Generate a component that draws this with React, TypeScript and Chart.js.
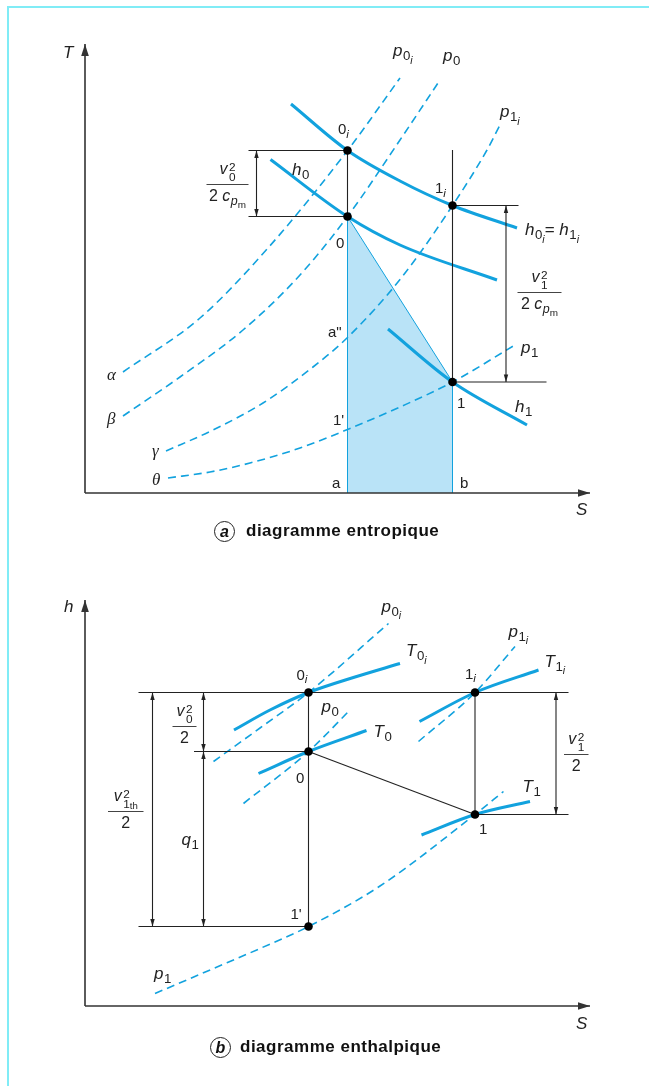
import React, { useEffect, useRef } from "react";
import { Chart, registerables } from "chart.js";
Chart.register(...registerables);

type P = [number, number];

// ---------------- Diagram (a) : diagramme entropique (T–S) ----------------
const aH0i: P[] = [[41.2, 77.8], [52.5, 68.5], [63, 62.4], [73.5, 57.5], [86.4, 53]];
const aH0: P[] = [[37.1, 66.7], [52.5, 55.3], [63, 49.6], [82.4, 42.6]];
const aH1: P[] = [[60.6, 32.8], [73.5, 22.2], [88.4, 13.6]];
const aP0i: P[] = [[7.6, 24.2], [23, 35], [36.6, 49], [52.5, 68.5], [63, 83]];
const aP0: P[] = [[7.6, 15.4], [19, 23.2], [31.6, 32.6], [43, 43.6], [52.5, 55.3], [63, 70.6], [71, 82.6]];
const aP1i: P[] = [[16.2, 8.4], [25.6, 12.6], [35.6, 18], [45.6, 25.2], [52.5, 31.1], [63.4, 43.2], [73.5, 57.5], [80.4, 68.6], [83, 73.6]];
const aP1: P[] = [[16.6, 3], [25, 4.2], [33, 6], [43, 9], [52.5, 12.7], [63, 17.2], [73.5, 22.2], [86, 29.6]];
const aArea: P[] = [[52.5, 0], [52.5, 55.3], [73.5, 22.2], [73.5, 0]];
const aStates: P[] = [[52.5, 68.5], [52.5, 55.3], [73.5, 57.5], [73.5, 22.2]];
const aInk: P[][] = [
  [[52.5, 68.5], [52.5, 55.3]],
  [[73.5, 68.6], [73.5, 22.2]],
  [[32.7, 68.5], [52.5, 68.5]],
  [[32.7, 55.3], [52.5, 55.3]],
  [[73.5, 57.5], [86.7, 57.5]],
  [[73.5, 22.2], [92.3, 22.2]],
];
const aDims: [number, number, number][] = [[34.3, 55.3, 68.5], [84.2, 22.2, 57.5]];
const aAxisLen: P = [101, 89.8];

// ---------------- Diagram (b) : diagramme enthalpique (h–S) ----------------
const bT0i: P[] = [[29.8, 55.2], [37, 59.2], [44.7, 62.7], [54, 65.8], [63, 68.5]];
const bT0: P[] = [[34.7, 46.5], [44.7, 50.9], [56.3, 55.1]];
const bT1i: P[] = [[66.9, 56.9], [78, 62.7], [90.7, 67.2]];
const bT1: P[] = [[67.3, 34.2], [78, 38.3], [89, 40.9]];
const bP0i: P[] = [[25.7, 48.9], [35, 55.6], [44.7, 62.7], [60.7, 76.5]];
const bP0: P[] = [[31.7, 40.5], [44.7, 50.9], [53, 59.2]];
const bP1i: P[] = [[66.7, 52.9], [78, 62.7], [86, 71.9]];
const bP1: P[] = [[14, 2.5], [25.7, 7.5], [35, 11.5], [44.7, 15.9], [59, 24], [78, 38.3], [83.7, 42.9]];
const bStates: P[] = [[44.7, 62.7], [44.7, 50.9], [78, 62.7], [78, 38.3], [44.7, 15.9]];
const bInk: P[][] = [
  [[10.7, 62.7], [96.7, 62.7]],
  [[21.8, 50.9], [44.7, 50.9]],
  [[78, 38.3], [96.7, 38.3]],
  [[10.7, 15.9], [44.7, 15.9]],
  [[44.7, 62.7], [44.7, 15.9]],
  [[78, 62.7], [78, 38.3]],
  [[44.7, 50.9], [78, 38.3]],
];
const bDims: [number, number, number][] = [[13.5, 15.9, 62.7], [23.7, 50.9, 62.7], [23.7, 15.9, 50.9], [94.2, 38.3, 62.7]];
const bAxisLen: P = [101, 81.2];

// ---------------- styling ----------------
const BLUE = "#12a2de";
const FILL = "#b9e3f7";
const INK = "#222222";
const AXIS = "#333333";
const SANS = '"Liberation Sans", Arial, sans-serif';
const SERIF = '"Liberation Serif", "DejaVu Serif", serif';

type Seg = { t?: string; it?: boolean; lv?: number; serif?: boolean; sup?: string; sub?: string; subsub?: string };
const I = (t: string): Seg => ({ t, it: true });
const N = (t: string): Seg => ({ t });
const s1 = (t: string, it = false): Seg => ({ t, lv: 1, it });
const s2 = (t: string, it = false): Seg => ({ t, lv: 2, it });
const G = (t: string): Seg => ({ t, it: true, serif: true });
const SS = (sup: string, sub: string, subsub?: string): Seg => ({ sup, sub, subsub });

type Label = { x: number; y: number; segs: Seg[]; size: number };
type Frac = { x0: number; x1: number; y: number; num: Seg[]; den: Seg[] };

const VAR = 17;
const PT = 15;
const den2cp: Seg[] = [N("2 "), I("c"), s1("p", true), s2("m")];

const aLabels: Label[] = [
  { x: -4.4, y: 87, segs: [I("T")], size: VAR },
  { x: 98.2, y: -4.4, segs: [I("S")], size: VAR },
  { x: 61.6, y: 87.4, segs: [I("p"), s1("0"), s2("i", true)], size: VAR },
  { x: 71.6, y: 86.4, segs: [I("p"), s1("0")], size: VAR },
  { x: 83, y: 75.2, segs: [I("p"), s1("1"), s2("i", true)], size: VAR },
  { x: 87.2, y: 28, segs: [I("p"), s1("1")], size: VAR },
  { x: 41.4, y: 63.6, segs: [I("h"), s1("0")], size: VAR },
  { x: 88, y: 51.6, segs: [I("h"), s1("0"), s2("i", true), N("= "), I("h"), s1("1"), s2("i", true)], size: VAR },
  { x: 86, y: 16.2, segs: [I("h"), s1("1")], size: VAR },
  { x: 4.4, y: 22.6, segs: [G("α")], size: VAR },
  { x: 4.4, y: 13.8, segs: [G("β")], size: VAR },
  { x: 13.4, y: 7.4, segs: [G("γ")], size: VAR },
  { x: 13.4, y: 1.6, segs: [G("θ")], size: VAR },
  { x: 50.6, y: 71.8, segs: [N("0"), s1("i", true)], size: PT },
  { x: 50.2, y: 49, segs: [N("0")], size: PT },
  { x: 70, y: 60, segs: [N("1"), s1("i", true)], size: PT },
  { x: 74.4, y: 17, segs: [N("1")], size: PT },
  { x: 48.6, y: 31.3, segs: [N('a"')], size: PT },
  { x: 49.6, y: 13.6, segs: [N("1'")], size: PT },
  { x: 49.4, y: 1.1, segs: [N("a")], size: PT },
  { x: 75, y: 1, segs: [N("b")], size: PT },
];
const aFracs: Frac[] = [
  { x0: 24.3, x1: 32.7, y: 61.9, num: [I("v"), SS("2", "0")], den: den2cp },
  { x0: 86.5, x1: 95.3, y: 40.3, num: [I("v"), SS("2", "1")], den: den2cp },
];

const bLabels: Label[] = [
  { x: -4.2, y: 78.9, segs: [I("h")], size: VAR },
  { x: 98.2, y: -4.6, segs: [I("S")], size: VAR },
  { x: 42.3, y: 65.3, segs: [N("0"), s1("i", true)], size: PT },
  { x: 47.3, y: 58.9, segs: [I("p"), s1("0")], size: VAR },
  { x: 59.3, y: 78.9, segs: [I("p"), s1("0"), s2("i", true)], size: VAR },
  { x: 64.2, y: 70, segs: [I("T"), s1("0"), s2("i", true)], size: VAR },
  { x: 57.7, y: 53.9, segs: [I("T"), s1("0")], size: VAR },
  { x: 84.7, y: 73.9, segs: [I("p"), s1("1"), s2("i", true)], size: VAR },
  { x: 91.9, y: 67.9, segs: [I("T"), s1("1"), s2("i", true)], size: VAR },
  { x: 76, y: 65.5, segs: [N("1"), s1("i", true)], size: PT },
  { x: 87.5, y: 42.9, segs: [I("T"), s1("1")], size: VAR },
  { x: 78.8, y: 34.5, segs: [N("1")], size: PT },
  { x: 42.2, y: 44.7, segs: [N("0")], size: PT },
  { x: 41.1, y: 17.5, segs: [N("1'")], size: PT },
  { x: 19.3, y: 32.2, segs: [I("q"), s1("1")], size: VAR },
  { x: 13.8, y: 5.5, segs: [I("p"), s1("1")], size: VAR },
];
const bFracs: Frac[] = [
  { x0: 17.5, x1: 22.3, y: 55.9, num: [I("v"), SS("2", "0")], den: [N("2")] },
  { x0: 4.6, x1: 11.7, y: 39.1, num: [I("v"), SS("2", "1", "th")], den: [N("2")] },
  { x0: 95.8, x1: 100.7, y: 50.4, num: [I("v"), SS("2", "1")], den: [N("2")] },
];

// ---------------- drawing helpers ----------------
function rich(ctx: CanvasRenderingContext2D, segs: Seg[], base: number, draw: boolean, x0: number, y0: number): number {
  let cx = x0;
  for (const s of segs) {
    if (s.sup !== undefined) {
      const f = base * 0.74;
      ctx.font = `${f}px ${SANS}`;
      const w1 = ctx.measureText(s.sup).width;
      const w2 = ctx.measureText(s.sub || "").width;
      const sx = cx + 1;
      if (draw) {
        ctx.fillText(s.sup, sx, y0 - base * 0.2);
        ctx.fillText(s.sub || "", sx, y0 + base * 0.44);
      }
      let w = Math.max(w1, w2);
      if (s.subsub) {
        ctx.font = `${base * 0.6}px ${SANS}`;
        const w3 = ctx.measureText(s.subsub).width;
        if (draw) ctx.fillText(s.subsub, sx + w2, y0 + base * 0.5);
        w = Math.max(w1, w2 + w3);
      }
      cx += w + 1;
      continue;
    }
    const lv = s.lv || 0;
    const size = lv === 0 ? base : lv === 1 ? base * 0.78 : base * 0.62;
    const dy = lv === 0 ? 0 : lv === 1 ? base * 0.24 : base * 0.46;
    ctx.font = `${s.it ? "italic " : ""}${size}px ${s.serif ? SERIF : SANS}`;
    if (draw) ctx.fillText(s.t || "", cx, y0 + dy);
    cx += ctx.measureText(s.t || "").width + (lv === 0 && s.it ? 0.5 : 0);
  }
  return cx - x0;
}

function head(ctx: CanvasRenderingContext2D, x: number, y: number, dx: number, dy: number, len: number, hw: number) {
  ctx.beginPath();
  ctx.moveTo(x, y);
  ctx.lineTo(x - dx * len - dy * hw, y - dy * len + dx * hw);
  ctx.lineTo(x - dx * len + dy * hw, y - dy * len - dx * hw);
  ctx.closePath();
  ctx.fill();
}

type Spec = {
  yMin: number; yMax: number;
  solid: P[][]; dashed: P[][]; area?: P[]; ink: P[][]; states: P[];
  dims: [number, number, number][]; axis: P; labels: Label[]; fracs: Frac[];
};

const X_MIN = -17;
const X_MAX = 112.8;

function pts(a: P[]) {
  return a.map(([x, y]) => ({ x, y }));
}

function makeConfig(spec: Spec): any {
  const datasets: any[] = [];
  if (spec.area) {
    datasets.push({
      data: pts(spec.area), showLine: true, fill: "origin", backgroundColor: FILL,
      borderColor: BLUE, borderWidth: 1, pointRadius: 0, tension: 0, order: 10,
    });
  }
  for (const c of spec.dashed) {
    datasets.push({
      data: pts(c), showLine: true, fill: false, borderColor: BLUE, borderWidth: 1.6,
      borderDash: [8, 5], pointRadius: 0, tension: 0.4, cubicInterpolationMode: "monotone", order: 6,
    });
  }
  for (const c of spec.solid) {
    datasets.push({
      data: pts(c), showLine: true, fill: false, borderColor: BLUE, borderWidth: 3,
      pointRadius: 0, tension: 0.4, cubicInterpolationMode: "monotone", order: 5,
    });
  }
  for (const l of spec.ink) {
    datasets.push({
      data: pts(l), showLine: true, fill: false, borderColor: INK, borderWidth: 1.1,
      pointRadius: 0, tension: 0, order: 3,
    });
  }
  for (const [x, y0, y1] of spec.dims) {
    datasets.push({
      data: pts([[x, y0], [x, y1]]), showLine: true, fill: false, borderColor: INK, borderWidth: 1.1,
      pointRadius: 0, tension: 0, order: 3,
    });
  }
  datasets.push({ data: pts([[0, 0], [spec.axis[0], 0]]), showLine: true, borderColor: AXIS, borderWidth: 1.6, pointRadius: 0, order: 2 });
  datasets.push({ data: pts([[0, 0], [0, spec.axis[1]]]), showLine: true, borderColor: AXIS, borderWidth: 1.6, pointRadius: 0, order: 2 });
  datasets.push({
    data: pts(spec.states), showLine: false, pointRadius: 4.3, pointBackgroundColor: "#000",
    pointBorderWidth: 0, pointBorderColor: "#000", order: 0,
  });

  const overlay = {
    id: "overlay",
    afterDatasetsDraw(chart: any) {
      const ctx: CanvasRenderingContext2D = chart.ctx;
      const xs = chart.scales.x, ys = chart.scales.y;
      const X = (v: number) => xs.getPixelForValue(v);
      const Y = (v: number) => ys.getPixelForValue(v);
      ctx.save();
      ctx.fillStyle = INK;
      for (const [x, y0, y1] of spec.dims) {
        const top = Math.max(y0, y1), bot = Math.min(y0, y1);
        head(ctx, X(x), Y(top), 0, -1, 7.5, 2.2);
        head(ctx, X(x), Y(bot), 0, 1, 7.5, 2.2);
      }
      ctx.fillStyle = AXIS;
      head(ctx, X(spec.axis[0]), Y(0), 1, 0, 12, 3.8);
      head(ctx, X(0), Y(spec.axis[1]), 0, -1, 12, 3.8);
      ctx.fillStyle = INK;
      ctx.textBaseline = "alphabetic";
      ctx.textAlign = "left";
      for (const l of spec.labels) {
        rich(ctx, l.segs, l.size, true, X(l.x), Y(l.y));
      }
      for (const f of spec.fracs) {
        const x0 = X(f.x0), x1 = X(f.x1), y = Math.round(Y(f.y)) + 0.5;
        ctx.strokeStyle = "#444";
        ctx.lineWidth = 1;
        ctx.beginPath();
        ctx.moveTo(x0, y);
        ctx.lineTo(x1, y);
        ctx.stroke();
        const cm = (x0 + x1) / 2;
        const wn = rich(ctx, f.num, 16, false, 0, 0);
        rich(ctx, f.num, 16, true, cm - wn / 2, y - 10.5);
        const wd = rich(ctx, f.den, 16, false, 0, 0);
        rich(ctx, f.den, 16, true, cm - wd / 2, y + 16.5);
      }
      ctx.restore();
    },
  };

  return {
    type: "scatter",
    data: { datasets },
    options: {
      animation: false,
      responsive: false,
      maintainAspectRatio: false,
      devicePixelRatio: 1,
      events: [],
      layout: { padding: 0, autoPadding: false },
      plugins: { legend: { display: false }, tooltip: { enabled: false }, title: { display: false } },
      scales: {
        x: { type: "linear", min: X_MIN, max: X_MAX, display: false },
        y: { type: "linear", min: spec.yMin, max: spec.yMax, display: false },
      },
    },
    plugins: [overlay],
  };
}

const specA: Spec = {
  yMin: -13.4, yMax: 98.6,
  solid: [aH0i, aH0, aH1], dashed: [aP0i, aP0, aP1i, aP1], area: aArea,
  ink: aInk, states: aStates, dims: aDims, axis: aAxisLen, labels: aLabels, fracs: aFracs,
};
const specB: Spec = {
  yMin: -16, yMax: 89.2,
  solid: [bT0i, bT0, bT1i, bT1], dashed: [bP0i, bP0, bP1i, bP1],
  ink: bInk, states: bStates, dims: bDims, axis: bAxisLen, labels: bLabels, fracs: bFracs,
};

function Caption({ left, top, letter, text, gap }: { left: number; top: number; letter: string; text: string; gap: number }) {
  return (
    <div style={{ position: "absolute", left, top, display: "flex", alignItems: "center", height: 22, color: "#111", fontFamily: SANS }}>
      <span style={{
        display: "inline-block", width: 19, height: 19, border: "1.2px solid #222", borderRadius: "50%",
        fontStyle: "italic", fontWeight: "bold", fontSize: 16, lineHeight: "19px", textAlign: "center", boxSizing: "content-box",
      }}>{letter}</span>
      <span style={{ marginLeft: gap, fontWeight: "bold", fontSize: 17, letterSpacing: 0.5, whiteSpace: "nowrap" }}>{text}</span>
    </div>
  );
}

export default function App() {
  const refA = useRef<HTMLCanvasElement>(null);
  const refB = useRef<HTMLCanvasElement>(null);
  useEffect(() => {
    const ca = new Chart(refA.current as HTMLCanvasElement, makeConfig(specA));
    const cb = new Chart(refB.current as HTMLCanvasElement, makeConfig(specB));
    return () => {
      ca.destroy();
      cb.destroy();
    };
  }, []);
  return (
    <div style={{ position: "absolute", left: 0, top: 0, width: 649, height: 1086, overflow: "hidden", background: "#fff" }}>
      <div style={{ position: "absolute", left: 7, top: 6, width: 700, height: 1200, borderLeft: "2px solid #80ecf6", borderTop: "2px solid #80ecf6" }} />
      <canvas ref={refA} width={649} height={560} style={{ position: "absolute", left: 0, top: 0, width: 649, height: 560 }} />
      <canvas ref={refB} width={649} height={526} style={{ position: "absolute", left: 0, top: 560, width: 649, height: 526 }} />
      <Caption left={214} top={520} letter="a" text="diagramme entropique" gap={11} />
      <Caption left={210} top={1036} letter="b" text="diagramme enthalpique" gap={9} />
    </div>
  );
}
